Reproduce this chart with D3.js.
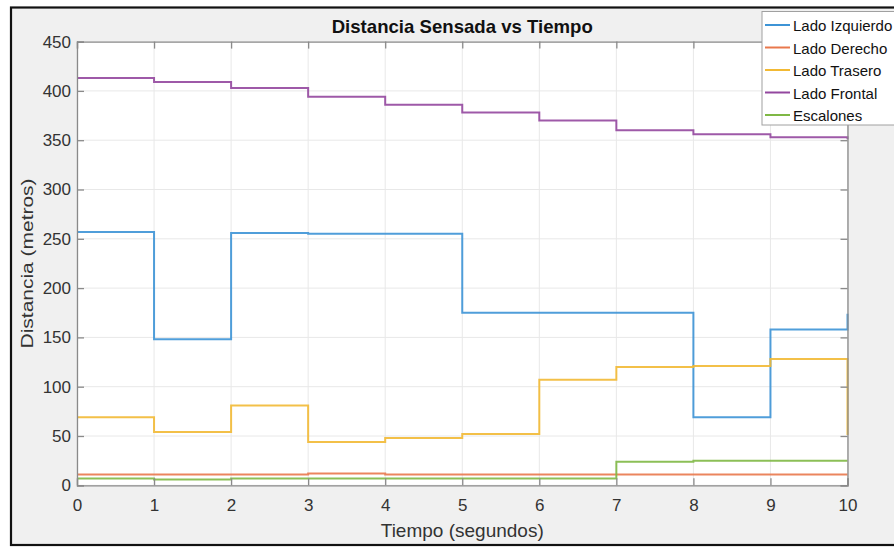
<!DOCTYPE html>
<html>
<head>
<meta charset="utf-8">
<script src="https://cdn.jsdelivr.net/npm/d3@7"></script>
<style>
html,body{margin:0;padding:0;background:#fff;}
svg{display:block;font-family:"Liberation Sans",Arial,Helvetica,sans-serif;}
</style>
</head>
<body>
<svg id="chart" width="894" height="548"></svg>
<script>
// ---- data ----
const tiempo = [0,1,2,3,4,5,6,7,8,9,10];
const ladoIzquierdo = [257,148,256,255,255,175,175,175,69,158,174];
const ladoDerecho   = [11,11,11,12,11,11,11,11,11,11,11];
const ladoTrasero   = [69,54,81,44,48,52,107,120,121,128,51];
const ladoFrontal   = [413,409,403,394,386,378,370,360,356,353,351];
const escalones     = [7,6,7,7,7,7,7,24,25,25,25];
const seriesNames = ["Lado Izquierdo","Lado Derecho","Lado Trasero","Lado Frontal","Escalones"];
const seriesColors = ["#3d94d6","#e9784c","#f2b934","#93479f","#7fb845"];
const xTicks = [0,1,2,3,4,5,6,7,8,9,10];
const yTicks = [0,50,100,150,200,250,300,350,400,450];
const titleText = "Distancia Sensada vs Tiempo";
const xLabel = "Tiempo (segundos)";
const yLabel = "Distancia (metros)";

const allSeries = [ladoIzquierdo, ladoDerecho, ladoTrasero, ladoFrontal, escalones];

const svg = d3.select("#chart");
const W = 894, H = 548;
const L = 77, R = 847.5, T = 41.6, B = 485.3;

// figure background + frame
svg.append("rect").attr("x",11).attr("y",7.5).attr("width",W+20).attr("height",537.5)
  .attr("fill","#f0f0f0").attr("stroke","#111").attr("stroke-width",2.2);

const x = d3.scaleLinear().domain([0,10]).range([L,R]);
const y = d3.scaleLinear().domain([0,450]).range([B,T]);

// plot area
svg.append("rect").attr("x",L).attr("y",T).attr("width",R-L).attr("height",B-T).attr("fill","#fff");

// grid
const g = svg.append("g");
g.selectAll(".vg").data(xTicks).join("line")
  .attr("x1",d=>x(d)).attr("x2",d=>x(d)).attr("y1",T).attr("y2",B)
  .attr("stroke","#e8e8e8").attr("stroke-width",1);
g.selectAll(".hg").data(yTicks).join("line")
  .attr("y1",d=>y(d)).attr("y2",d=>y(d)).attr("x1",L).attr("x2",R)
  .attr("stroke","#e8e8e8").attr("stroke-width",1);

// lines
const line = d3.line().x((d,i)=>x(tiempo[i])).y(d=>y(d)).curve(d3.curveStepAfter);
svg.append("g").selectAll("path").data(allSeries).join("path")
  .attr("d",d=>line(d)).attr("fill","none")
  .attr("stroke",(d,i)=>seriesColors[i]).attr("stroke-width",2)
  .attr("stroke-opacity",0.9);

// axes
const axCol = "#8a8a8a";
const tickLen = 7;
const xb = svg.append("g").attr("transform",`translate(0,${B})`)
  .call(d3.axisBottom(x).tickValues(xTicks).tickSize(-tickLen).tickPadding(14).tickFormat(d3.format("d")));
const xt = svg.append("g").attr("transform",`translate(0,${T})`)
  .call(d3.axisTop(x).tickValues(xTicks).tickSize(-tickLen).tickFormat(""));
const yl = svg.append("g").attr("transform",`translate(${L},0)`)
  .call(d3.axisLeft(y).tickValues(yTicks).tickSize(-tickLen).tickPadding(6).tickFormat(d3.format("d")));
const yr = svg.append("g").attr("transform",`translate(${R},0)`)
  .call(d3.axisRight(y).tickValues(yTicks).tickSize(-tickLen).tickFormat(""));
[xb,xt,yl,yr].forEach(a=>{
  a.select(".domain").attr("stroke",axCol).attr("stroke-width",1.3);
  a.selectAll(".tick line").attr("stroke",axCol).attr("stroke-width",1.3);
  a.selectAll(".tick text").attr("fill","#333").attr("font-size",17)
   .attr("font-family","'Liberation Sans',Arial,sans-serif");
});

// title
svg.append("text").attr("x",(L+R)/2).attr("y",33).attr("text-anchor","middle")
  .attr("font-size",18.6).attr("font-weight","bold").attr("fill","#111").text(titleText);
// x label
svg.append("text").attr("x",(L+R)/2).attr("y",537).attr("text-anchor","middle")
  .attr("font-size",19).attr("fill","#333").text(xLabel);
// y label
svg.append("text").attr("transform",`translate(33,${(T+B)/2}) rotate(-90)`)
  .attr("text-anchor","middle").attr("font-size",16)
  .attr("textLength",170).attr("lengthAdjust","spacingAndGlyphs")
  .attr("fill","#333").text(yLabel);

// legend
const lg = svg.append("g");
lg.append("rect").attr("x",762).attr("y",11.5).attr("width",160).attr("height",113.5)
  .attr("fill","#fff").attr("stroke","#a0a0a0").attr("stroke-width",1);
const rowY = i => 25 + i*22.5;
lg.selectAll("line").data(seriesNames).join("line")
  .attr("x1",765).attr("x2",790).attr("y1",(d,i)=>rowY(i)).attr("y2",(d,i)=>rowY(i))
  .attr("stroke",(d,i)=>seriesColors[i]).attr("stroke-width",2);
lg.selectAll("text").data(seriesNames).join("text")
  .attr("x",793).attr("y",(d,i)=>rowY(i)+6).attr("font-size",15).attr("fill","#111").text(d=>d);
</script>
</body>
</html>
